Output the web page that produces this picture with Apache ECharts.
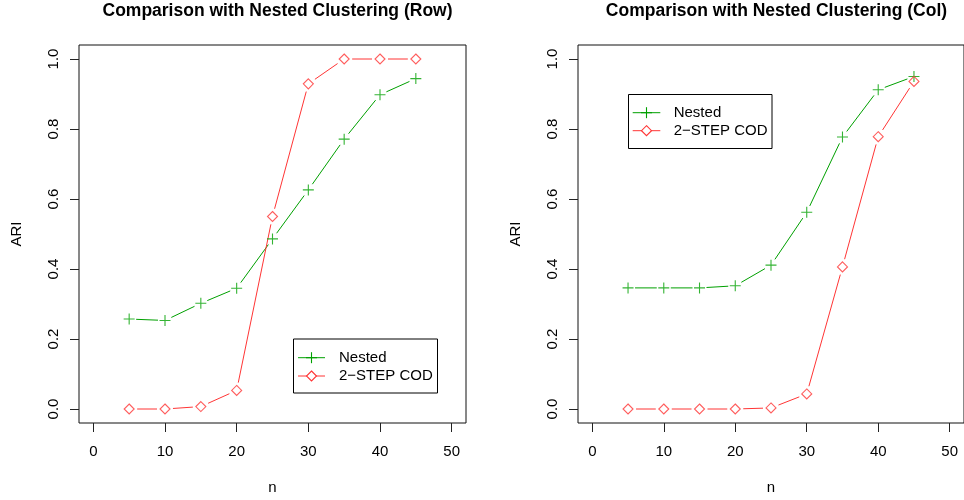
<!DOCTYPE html>
<html>
<head>
<meta charset="utf-8">
<script src="https://cdn.jsdelivr.net/npm/echarts@6/dist/echarts.min.js"></script>
<style>
html,body{margin:0;padding:0;background:#fff;}
#chart{width:964px;height:500px;}
</style>
</head>
<body>
<div id="chart"></div>
<script>
// ---- data ----
const nVals = [5, 10, 15, 20, 25, 30, 35, 40, 45];
const rowNested = [0.257, 0.253, 0.302, 0.345, 0.486, 0.626, 0.771, 0.898, 0.944];
const rowCOD    = [0.000, 0.000, 0.007, 0.053, 0.550, 0.929, 1.000, 1.000, 1.000];
const colNested = [0.346, 0.346, 0.346, 0.352, 0.411, 0.562, 0.777, 0.912, 0.950];
const colCOD    = [0.000, 0.000, 0.000, 0.000, 0.003, 0.043, 0.406, 0.778, 0.936];
const xTicks = [0, 10, 20, 30, 40, 50];
const yTicks = [0, 0.2, 0.4, 0.6, 0.8, 1.0];
const titles = ['Comparison with Nested Clustering (Row)', 'Comparison with Nested Clustering (Col)'];
const seriesNames = ['Nested', '2\u2212STEP COD'];

const GREEN = '#00a000';
const RED = '#ff3535';
const FONT = '"Liberation Sans", Arial, Helvetica, sans-serif';
const PLUS = 'path://M5,0 L5,10 M0,5 L10,5';

const chart = echarts.init(document.getElementById('chart'));

function pts(ys) { return nVals.map((x, i) => [x, ys[i]]); }
function segs(ys) {
  const out = [];
  for (let i = 0; i < nVals.length - 1; i++) out.push([nVals[i], ys[i], nVals[i + 1], ys[i + 1]]);
  return out;
}
function gapLine(name, ys, gi, color, gap) {
  return {
    type: 'custom', name: name, xAxisIndex: gi, yAxisIndex: gi,
    coordinateSystem: 'cartesian2d', silent: true,
    encode: { x: [0, 2], y: [1, 3] },
    data: segs(ys),
    renderItem: function (params, api) {
      const p1 = api.coord([api.value(0), api.value(1)]);
      const p2 = api.coord([api.value(2), api.value(3)]);
      const dx = p2[0] - p1[0], dy = p2[1] - p1[1];
      const len = Math.sqrt(dx * dx + dy * dy);
      if (len <= 2 * gap) return null;
      const ux = dx / len, uy = dy / len;
      return {
        type: 'line',
        shape: { x1: p1[0] + ux * gap, y1: p1[1] + uy * gap, x2: p2[0] - ux * gap, y2: p2[1] - uy * gap },
        style: { stroke: color, lineWidth: 1 }
      };
    }
  };
}
function marks(name, ys, gi, color, symbol, size) {
  return {
    type: 'scatter', name: name, xAxisIndex: gi, yAxisIndex: gi,
    symbol: symbol, symbolSize: size, silent: true,
    itemStyle: { color: 'none', borderColor: color, borderWidth: 1.1 },
    data: pts(ys)
  };
}

const grids = [
  { left: 79, top: 45, width: 387, height: 378 },
  { left: 578, top: 45, width: 388, height: 378 }
];

function xAxis(gi) {
  return {
    type: 'value', gridIndex: gi, min: -2, max: 52, position: 'bottom',
    name: 'n', nameLocation: 'middle', nameGap: 57,
    nameTextStyle: { fontFamily: FONT, fontSize: 15, color: '#000' },
    axisLine: { show: false, onZero: false },
    axisTick: { show: true, inside: false, length: 9, customValues: xTicks, lineStyle: { color: '#222', width: 1 } },
    axisLabel: { show: true, customValues: xTicks, margin: 21, fontFamily: FONT, fontSize: 15, color: '#000' },
    splitLine: { show: false }
  };
}
function yAxis(gi) {
  return {
    type: 'value', gridIndex: gi, min: -0.04, max: 1.04, position: 'left',
    name: 'ARI', nameLocation: 'middle', nameGap: 55, nameRotate: 90,
    nameTextStyle: { fontFamily: FONT, fontSize: 15, color: '#000' },
    axisLine: { show: false, onZero: false },
    axisTick: { show: true, inside: false, length: 9, customValues: yTicks, lineStyle: { color: '#222', width: 1 } },
    axisLabel: {
      show: true, customValues: yTicks, rotate: 90, margin: 18,
      fontFamily: FONT, fontSize: 15, color: '#000',
      formatter: v => Number(v).toFixed(1)
    },
    splitLine: { show: false }
  };
}

function legendGraphic(box, lineX0, lineX1, symX, textX, y1, y2) {
  const els = [];
  els.push({ type: 'rect', shape: { x: box[0], y: box[1], width: box[2], height: box[3] },
    style: { fill: '#fff', stroke: '#000', lineWidth: 1 }, z: 100 });
  els.push({ type: 'line', shape: { x1: lineX0, y1: y1, x2: lineX1, y2: y1 }, style: { stroke: GREEN, lineWidth: 1 }, z: 101 });
  els.push({ type: 'polyline', shape: { points: [[symX, y1 - 5.5], [symX, y1 + 5.5]] }, style: { stroke: GREEN, lineWidth: 1.1, fill: null }, z: 101 });
  els.push({ type: 'polyline', shape: { points: [[symX - 5.5, y1], [symX + 5.5, y1]] }, style: { stroke: GREEN, lineWidth: 1.1, fill: null }, z: 101 });
  els.push({ type: 'line', shape: { x1: lineX0, y1: y2, x2: lineX1, y2: y2 }, style: { stroke: RED, lineWidth: 1 }, z: 101 });
  els.push({ type: 'polygon', shape: { points: [[symX, y2 - 5], [symX + 5, y2], [symX, y2 + 5], [symX - 5, y2]] },
    style: { stroke: RED, lineWidth: 1.1, fill: '#fff' }, z: 102 });
  els.push({ type: 'text', x: textX, y: y1, style: { text: seriesNames[0], font: '15px ' + FONT, fill: '#000', verticalAlign: 'middle', align: 'left' }, z: 101 });
  els.push({ type: 'text', x: textX, y: y2, style: { text: seriesNames[1], font: '15px ' + FONT, fill: '#000', verticalAlign: 'middle', align: 'left' }, z: 101 });
  return els;
}

const option = {
  backgroundColor: '#fff',
  animation: false,
  title: [
    { text: titles[0], left: 272.5, top: -3, textAlign: 'center',
      textStyle: { fontFamily: FONT, fontSize: 17.5, fontWeight: 'bold', color: '#000' } },
    { text: titles[1], left: 771.5, top: -3, textAlign: 'center',
      textStyle: { fontFamily: FONT, fontSize: 17.5, fontWeight: 'bold', color: '#000' } }
  ],
  grid: grids.map(g => Object.assign({ show: true, borderColor: '#111', borderWidth: 1, backgroundColor: 'transparent', containLabel: false }, g)),
  xAxis: [xAxis(0), xAxis(1)],
  yAxis: [yAxis(0), yAxis(1)],
  series: [
    gapLine(seriesNames[0], rowNested, 0, GREEN, 7),
    gapLine(seriesNames[1], rowCOD, 0, RED, 8),
    marks(seriesNames[0], rowNested, 0, GREEN, PLUS, 11),
    marks(seriesNames[1], rowCOD, 0, RED, 'diamond', 10),
    gapLine(seriesNames[0], colNested, 1, GREEN, 7),
    gapLine(seriesNames[1], colCOD, 1, RED, 8),
    marks(seriesNames[0], colNested, 1, GREEN, PLUS, 11),
    marks(seriesNames[1], colCOD, 1, RED, 'diamond', 10)
  ],
  graphic: [].concat(
    legendGraphic([293.5, 339, 144, 54], 298, 325, 311.5, 339, 357.7, 376),
    legendGraphic([628.5, 94.5, 143.5, 54], 632.7, 660.3, 646.5, 673.7, 112.7, 130.7)
  )
};
chart.setOption(option);
</script>
</body>
</html>
